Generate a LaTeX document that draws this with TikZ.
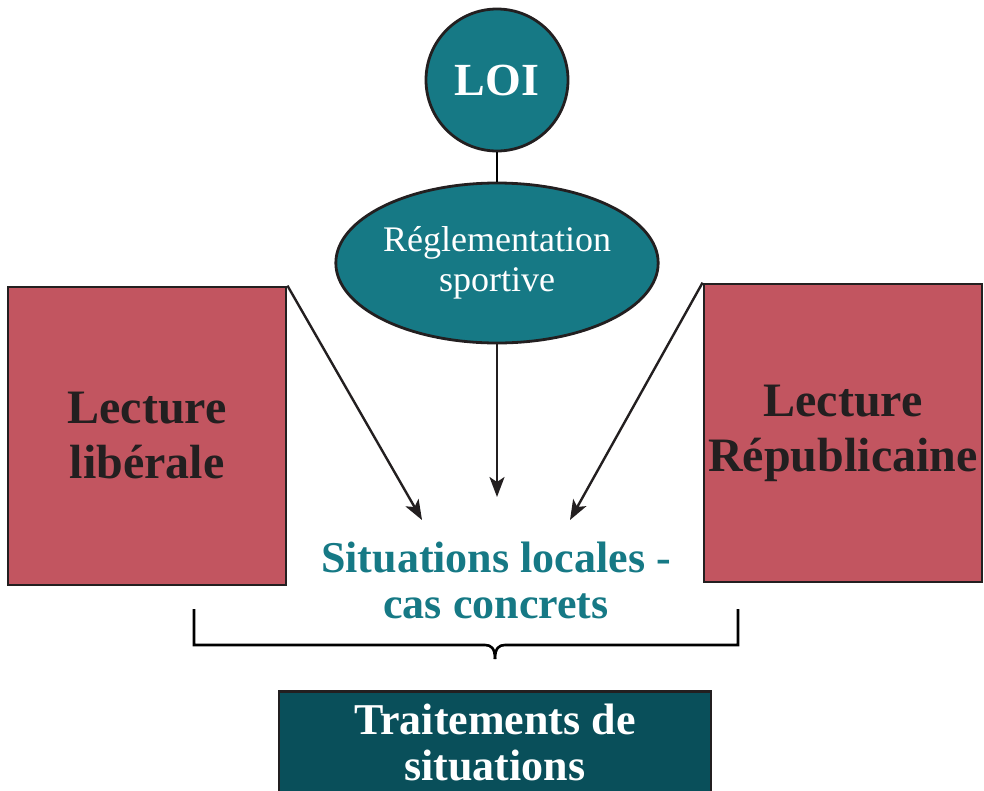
\documentclass[tikz,border=0pt]{standalone}
\usepackage{fontspec}
\setmainfont{Liberation Serif}
\usepackage{xcolor}
\usetikzlibrary{arrows.meta, shapes.geometric}

\definecolor{teal1}{HTML}{167985}
\definecolor{teal2}{HTML}{094F5A}
\definecolor{rose1}{HTML}{C25560}
\definecolor{ink}{HTML}{231F20}

\begin{document}
\begin{tikzpicture}[
  x=1pt, y=-1pt,
  line width=2.8pt,
  every node/.style={text=ink},
  circ/.style={draw=ink, circle, fill=teal1, minimum size=142pt, inner sep=0pt,
               text=white, font=\bfseries\fontsize{46}{50}\selectfont},
  oval/.style={draw=ink, ellipse, fill=teal1, minimum width=312pt,
               minimum height=160pt, inner sep=0pt, align=center, text=white,
               font=\fontsize{36}{42}\selectfont},
  readbox/.style={draw=ink, rectangle, fill=rose1, minimum width=278pt,
                  minimum height=298pt, inner sep=0pt},
  lbl/.style={align=center, font=\bfseries\fontsize{48}{55}\selectfont},
  arrow/.style={-{Stealth[length=20pt, width=15pt, inset=5pt]}, line width=2.4pt,
                draw=ink},
]
\clip (0,0) rectangle (984,790);

\node[circ] (loi) at (497,80) {LOI};
\node[oval] (regl) at (497,263) {Réglementation\\[-2pt]sportive};
\node[readbox] (lib) at (147,436) {};
\node[lbl] at (lib) {Lecture\\libérale};
\node[readbox] (rep) at (843,433) {};
\node[lbl] at (rep) {Lecture\\Républicaine};
\node[align=center, text=teal1, font=\bfseries\fontsize{44}{46}\selectfont]
  (sit) at (496,580) {Situations locales -\\cas concrets};
\node[draw=ink, rectangle, fill=teal2, minimum width=432pt, minimum height=120pt,
      anchor=north, inner sep=0pt] (trait) at (495,690) {};
\node[align=center, text=white, font=\bfseries\fontsize{44}{46}\selectfont]
  at (495,742) {Traitements de\\situations};

\coordinate (tipL) at (422,520);
\coordinate (tipM) at (497,497);
\coordinate (tipR) at (570,520);

\draw[line width=2.4pt] (loi.south) -- (regl.north);
\draw[arrow] (regl.south) -- (tipM);
\draw[arrow] (lib.north east) -- (tipL);
\draw[arrow] (rep.north west) -- (tipR);

% accolade
\draw[line width=2.6pt] (194,609) -- (194,645) -- (485,645)
  .. controls (491,645) and (495,648) .. (495,659);
\draw[line width=2.6pt] (738,609) -- (738,645) -- (505,645)
  .. controls (499,645) and (495,648) .. (495,659);
\end{tikzpicture}
\end{document}
